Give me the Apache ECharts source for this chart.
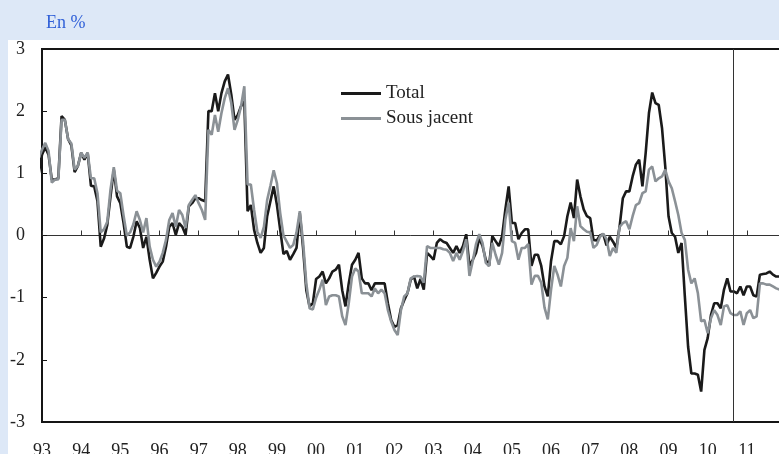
<!DOCTYPE html>
<html><head><meta charset="utf-8">
<script src="https://cdn.jsdelivr.net/npm/echarts@6/dist/echarts.min.js"></script>
<style>html,body{margin:0;padding:0;background:#dde8f7;}#c{width:779px;height:454px;}</style>
</head><body><div id="c"></div>
<script>
// monthly series, first value = Nov 1992
const startYear = 1992, startMonth = 11;
const total = [
0.6,1.0,1.3,1.42,1.3,0.9,0.9,0.92,1.92,1.86,
1.55,1.45,1.02,1.12,1.33,1.22,1.33,0.8,0.79,0.55,
-0.18,-0.05,0.17,0.63,1.06,0.63,0.52,0.2,-0.18,-0.2,
-0.02,0.23,0.12,-0.2,-0.02,-0.39,-0.69,-0.6,-0.5,-0.42,
-0.18,0.14,0.2,0.01,0.2,0.14,0.01,0.47,0.52,0.6,
0.6,0.57,0.55,2.0,2.0,2.29,2.0,2.29,2.48,2.59,
2.27,1.86,1.94,2.08,2.16,0.39,0.49,0.09,-0.12,-0.28,
-0.2,0.31,0.55,0.79,0.49,0.09,-0.3,-0.25,-0.39,-0.3,
-0.2,0.36,-0.2,-0.88,-1.14,-1.09,-0.7,-0.66,-0.58,-0.77,
-0.69,-0.58,-0.55,-0.47,-0.88,-1.14,-0.77,-0.47,-0.39,-0.28,
-0.69,-0.77,-0.77,-0.88,-0.77,-0.77,-0.77,-0.77,-1.09,-1.36,
-1.47,-1.44,-1.17,-1.04,-0.93,-0.71,-0.66,-0.85,-0.7,-0.87,
-0.28,-0.33,-0.39,-0.12,-0.06,-0.1,-0.12,-0.2,-0.28,-0.17,
-0.28,-0.17,0.02,-0.49,-0.39,-0.28,-0.04,-0.17,-0.39,-0.49,
-0.01,-0.09,-0.17,-0.01,0.42,0.79,0.2,0.2,-0.06,0.04,
0.1,0.1,-0.49,-0.31,-0.31,-0.49,-0.82,-0.98,-0.41,-0.09,
-0.09,-0.14,-0.01,0.31,0.53,0.28,0.9,0.63,0.42,0.31,
0.28,-0.07,-0.08,0.0,0.02,-0.16,-0.02,-0.1,-0.2,0.14,
0.6,0.71,0.71,0.95,1.14,1.22,0.79,1.33,1.97,2.3,
2.13,2.1,1.73,1.11,0.31,0.04,-0.02,-0.28,-0.12,-0.98,
-1.79,-2.22,-2.22,-2.24,-2.51,-1.84,-1.65,-1.28,-1.09,-1.09,
-1.17,-0.87,-0.69,-0.9,-0.9,-0.93,-0.82,-0.96,-0.82,-0.82,
-0.96,-0.98,-0.63,-0.62,-0.61,-0.58,-0.63,-0.66,-0.66
];
const sousJacent = [
0.88,1.25,1.38,1.49,1.36,0.85,0.9,0.9,1.86,1.86,
1.55,1.48,1.06,1.12,1.33,1.25,1.33,0.92,0.92,0.68,
0.05,0.1,0.22,0.74,1.1,0.72,0.68,0.32,0.0,0.05,
0.18,0.39,0.25,0.05,0.28,-0.18,-0.39,-0.5,-0.42,-0.28,
-0.07,0.25,0.36,0.14,0.41,0.33,0.12,0.49,0.57,0.65,
0.52,0.41,0.25,1.7,1.62,1.94,1.67,1.97,2.21,2.37,
2.13,1.7,1.86,2.08,2.4,0.82,0.82,0.41,0.06,-0.04,
0.14,0.57,0.8,1.05,0.84,0.36,0.0,-0.1,-0.2,-0.15,
0.05,0.39,-0.1,-0.77,-1.17,-1.19,-1.0,-0.87,-0.71,-1.12,
-0.98,-0.96,-0.96,-0.98,-1.3,-1.44,-1.09,-0.66,-0.53,-0.58,
-0.93,-0.93,-0.93,-0.98,-0.85,-0.93,-0.87,-0.93,-1.2,-1.38,
-1.52,-1.6,-1.2,-0.98,-0.93,-0.69,-0.66,-0.65,-0.66,-0.76,
-0.17,-0.2,-0.2,-0.2,-0.2,-0.22,-0.23,-0.28,-0.41,-0.28,
-0.39,-0.25,-0.06,-0.65,-0.41,-0.14,0.02,-0.12,-0.44,-0.49,
-0.12,-0.31,-0.47,-0.28,0.26,0.53,-0.09,-0.12,-0.39,-0.2,
-0.2,-0.14,-0.79,-0.65,-0.65,-0.76,-1.16,-1.35,-0.87,-0.49,
-0.63,-0.82,-0.49,-0.36,0.12,-0.09,0.47,0.15,0.1,0.06,
0.05,-0.2,-0.15,-0.02,0.03,-0.06,-0.33,-0.2,-0.28,0.14,
0.2,0.23,0.1,0.31,0.49,0.52,0.68,0.71,1.06,1.11,
0.87,0.92,0.95,1.06,0.87,0.76,0.55,0.33,0.04,-0.07,
-0.55,-0.77,-0.69,-0.93,-1.38,-1.36,-1.57,-1.33,-1.2,-1.28,
-1.44,-1.14,-1.12,-1.25,-1.28,-1.28,-1.22,-1.44,-1.25,-1.2,
-1.33,-1.3,-0.77,-0.77,-0.79,-0.79,-0.82,-0.85,-0.87
];
const yearLabels = ['93','94','95','96','97','98','99','00','01','02','03','04','05','06','07','08','09','10','11'];
const firstYear = 1993, lastAxisYear = 2012;
const yMin = -3, yMax = 3;
const forecastStart = 2010.65;
const seriesNames = ['Total', 'Sous jacent'];

const FONT = '"Liberation Serif", "Times New Roman", serif';
const toPairs = arr => arr.map((v, i) => [startYear + (startMonth - 1) / 12 + i / 12, v]);

const chart = echarts.init(document.getElementById('c'), null, {renderer: 'canvas'});
chart.setOption({
  animation: false,
  backgroundColor: '#dde8f7',
  graphic: [{type: 'rect', z: -10, silent: true, shape: {x: 8, y: 40, width: 771, height: 414}, style: {fill: '#ffffff'}}],
  title: {text: 'En %', left: 41, top: 9, textStyle: {color: '#3060d8', fontSize: 18, fontWeight: 'normal', fontFamily: FONT}},
  legend: {
    orient: 'vertical', left: 336, top: 79, itemWidth: 40, itemHeight: 3, itemGap: 6, icon: 'rect',
    textStyle: {fontFamily: FONT, fontSize: 19, color: '#222'}, data: seriesNames
  },
  grid: {left: 42, top: 49, right: -7, bottom: 32, containLabel: false, outerBoundsMode: 'none',
    show: true, borderColor: '#151515', borderWidth: 2, backgroundColor: 'transparent'},
  xAxis: [
    {type: 'value', min: firstYear, max: lastAxisYear, interval: 1, position: 'bottom',
     axisLine: {show: false, onZero: false}, axisTick: {show: false}, splitLine: {show: false},
     axisLabel: {margin: 20, fontFamily: FONT, fontSize: 18, color: '#222',
       formatter: v => yearLabels[Math.round(v - firstYear)] || ''}},
    {type: 'value', min: firstYear, max: lastAxisYear, interval: 1, position: 'top',
     axisLine: {show: true, onZero: true, lineStyle: {color: '#333', width: 1}},
     axisTick: {show: true, inside: false, length: 5, lineStyle: {color: '#333', width: 1}},
     axisLabel: {show: false}, splitLine: {show: false}}
  ],
  yAxis: {type: 'value', min: yMin, max: yMax, interval: 1,
    axisLine: {show: true, lineStyle: {color: '#151515', width: 2}},
    axisTick: {show: true, inside: true, length: 5, lineStyle: {color: '#151515', width: 1}},
    splitLine: {show: false},
    axisLabel: {margin: 17, fontFamily: FONT, fontSize: 18, color: '#222'}},
  series: [
    {name: seriesNames[0], type: 'line', xAxisIndex: 0, data: toPairs(total), symbol: 'none', clip: false,
     color: '#1a1a1a', lineStyle: {color: '#1a1a1a', width: 2.6}, z: 3,
     markLine: {silent: true, symbol: ['none', 'none'], label: {show: false},
       lineStyle: {color: '#333', width: 1, type: 'solid'}, data: [{xAxis: forecastStart}]}},
    {name: seriesNames[1], type: 'line', xAxisIndex: 0, data: toPairs(sousJacent), symbol: 'none', clip: false,
     color: '#8b9196', lineStyle: {color: '#8b9196', width: 2.6}, z: 4}
  ]
});
</script></body></html>
